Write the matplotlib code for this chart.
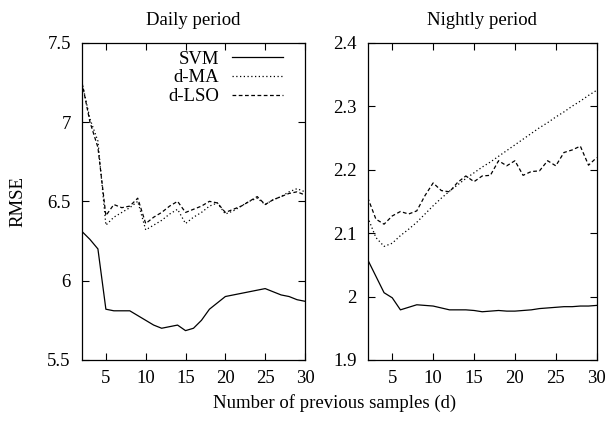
import numpy as np
import matplotlib.pyplot as plt

plt.rcParams['font.family'] = ['Liberation Serif', 'DejaVu Serif']
plt.rcParams['font.size'] = 13.5

d = np.arange(2, 31)

# Daily period
day_svm = [6.31, 6.26, 6.20, 5.82, 5.81, 5.81, 5.81, 5.78, 5.75, 5.72,
           5.70, 5.71, 5.72, 5.685, 5.70, 5.75, 5.82, 5.86, 5.90, 5.91,
           5.92, 5.93, 5.94, 5.95, 5.93, 5.91, 5.90, 5.88, 5.87]
day_ma = [7.25, 7.02, 6.88, 6.35, 6.40, 6.43, 6.46, 6.50, 6.32, 6.35,
          6.38, 6.42, 6.45, 6.36, 6.40, 6.43, 6.47, 6.49, 6.42, 6.44,
          6.47, 6.50, 6.52, 6.48, 6.51, 6.53, 6.56, 6.58, 6.56]
day_lso = [7.25, 7.00, 6.84, 6.41, 6.48, 6.46, 6.47, 6.52, 6.36, 6.40,
           6.43, 6.47, 6.50, 6.43, 6.45, 6.47, 6.50, 6.49, 6.43, 6.45,
           6.47, 6.50, 6.53, 6.48, 6.51, 6.53, 6.55, 6.56, 6.54]

# Nightly period
night_svm = [2.058, 2.032, 2.006, 1.998, 1.979, 1.983, 1.987, 1.986, 1.985, 1.982,
             1.979, 1.979, 1.979, 1.978, 1.976, 1.977, 1.978, 1.977, 1.977, 1.978,
             1.979, 1.981, 1.982, 1.983, 1.984, 1.984, 1.985, 1.985, 1.986]
night_ma = [2.125, 2.093, 2.079, 2.084, 2.096, 2.106, 2.117, 2.130, 2.143, 2.155,
            2.166, 2.176, 2.186, 2.195, 2.204, 2.212, 2.221, 2.230, 2.239, 2.248,
            2.257, 2.266, 2.274, 2.283, 2.291, 2.300, 2.308, 2.317, 2.325]
night_lso = [2.156, 2.122, 2.114, 2.127, 2.134, 2.130, 2.135, 2.159, 2.179, 2.167,
             2.165, 2.180, 2.190, 2.181, 2.190, 2.191, 2.214, 2.206, 2.214, 2.191,
             2.197, 2.198, 2.214, 2.206, 2.227, 2.231, 2.237, 2.207, 2.219]

fig = plt.figure(figsize=(6.1, 4.23), dpi=100)
ax1 = fig.add_axes([0.1344, 0.149, 0.3656, 0.750])
ax2 = fig.add_axes([0.6028, 0.149, 0.3754, 0.750])

lw = 0.9
for ax, svm, ma, lso, title in [(ax1, day_svm, day_ma, day_lso, 'Daily period'),
                                (ax2, night_svm, night_ma, night_lso, 'Nightly period')]:
    ax.plot(d, svm, color='black', lw=lw, label='SVM')
    ax.plot(d, ma, color='black', lw=lw, ls=(0, (1, 2)), label='d-MA')
    ax.plot(d, lso, color='black', lw=lw, ls=(0, (3, 2)), label='d-LSO')
    ax.set_xlim(2, 30)
    ax.set_xticks([5, 10, 15, 20, 25, 30])
    ax.tick_params(direction='in', top=True, right=True, length=5, width=0.8)
    ax.tick_params(axis='x', pad=7)
    ax.tick_params(axis='y', pad=8)
    ax.set_title(title, pad=13, fontsize=13.5)
    for s in ax.spines.values():
        s.set_linewidth(0.9)

ax1.set_ylim(5.5, 7.5)
ax1.set_yticks([5.5, 6, 6.5, 7, 7.5])
ax1.set_yticklabels(['5.5', '6', '6.5', '7', '7.5'])
ax2.set_ylim(1.9, 2.4)
ax2.set_yticks([1.9, 2.0, 2.1, 2.2, 2.3, 2.4])
ax2.set_yticklabels(['1.9', '2', '2.1', '2.2', '2.3', '2.4'])

ax1.legend(loc='upper right', bbox_to_anchor=(1 - 22 / 223, 1 - 8 / 317),
           frameon=False, markerfirst=False, borderaxespad=0, borderpad=0,
           handlelength=2.7, handletextpad=0.7, labelspacing=0.08)

fig.text(335 / 610, 1 - 403 / 423, 'Number of previous samples (d)', ha='center', va='center')
fig.text(18 / 610, 1 - 201 / 423, 'RMSE', ha='center', va='center', rotation=90)

fig.savefig('out.png', dpi=100)
